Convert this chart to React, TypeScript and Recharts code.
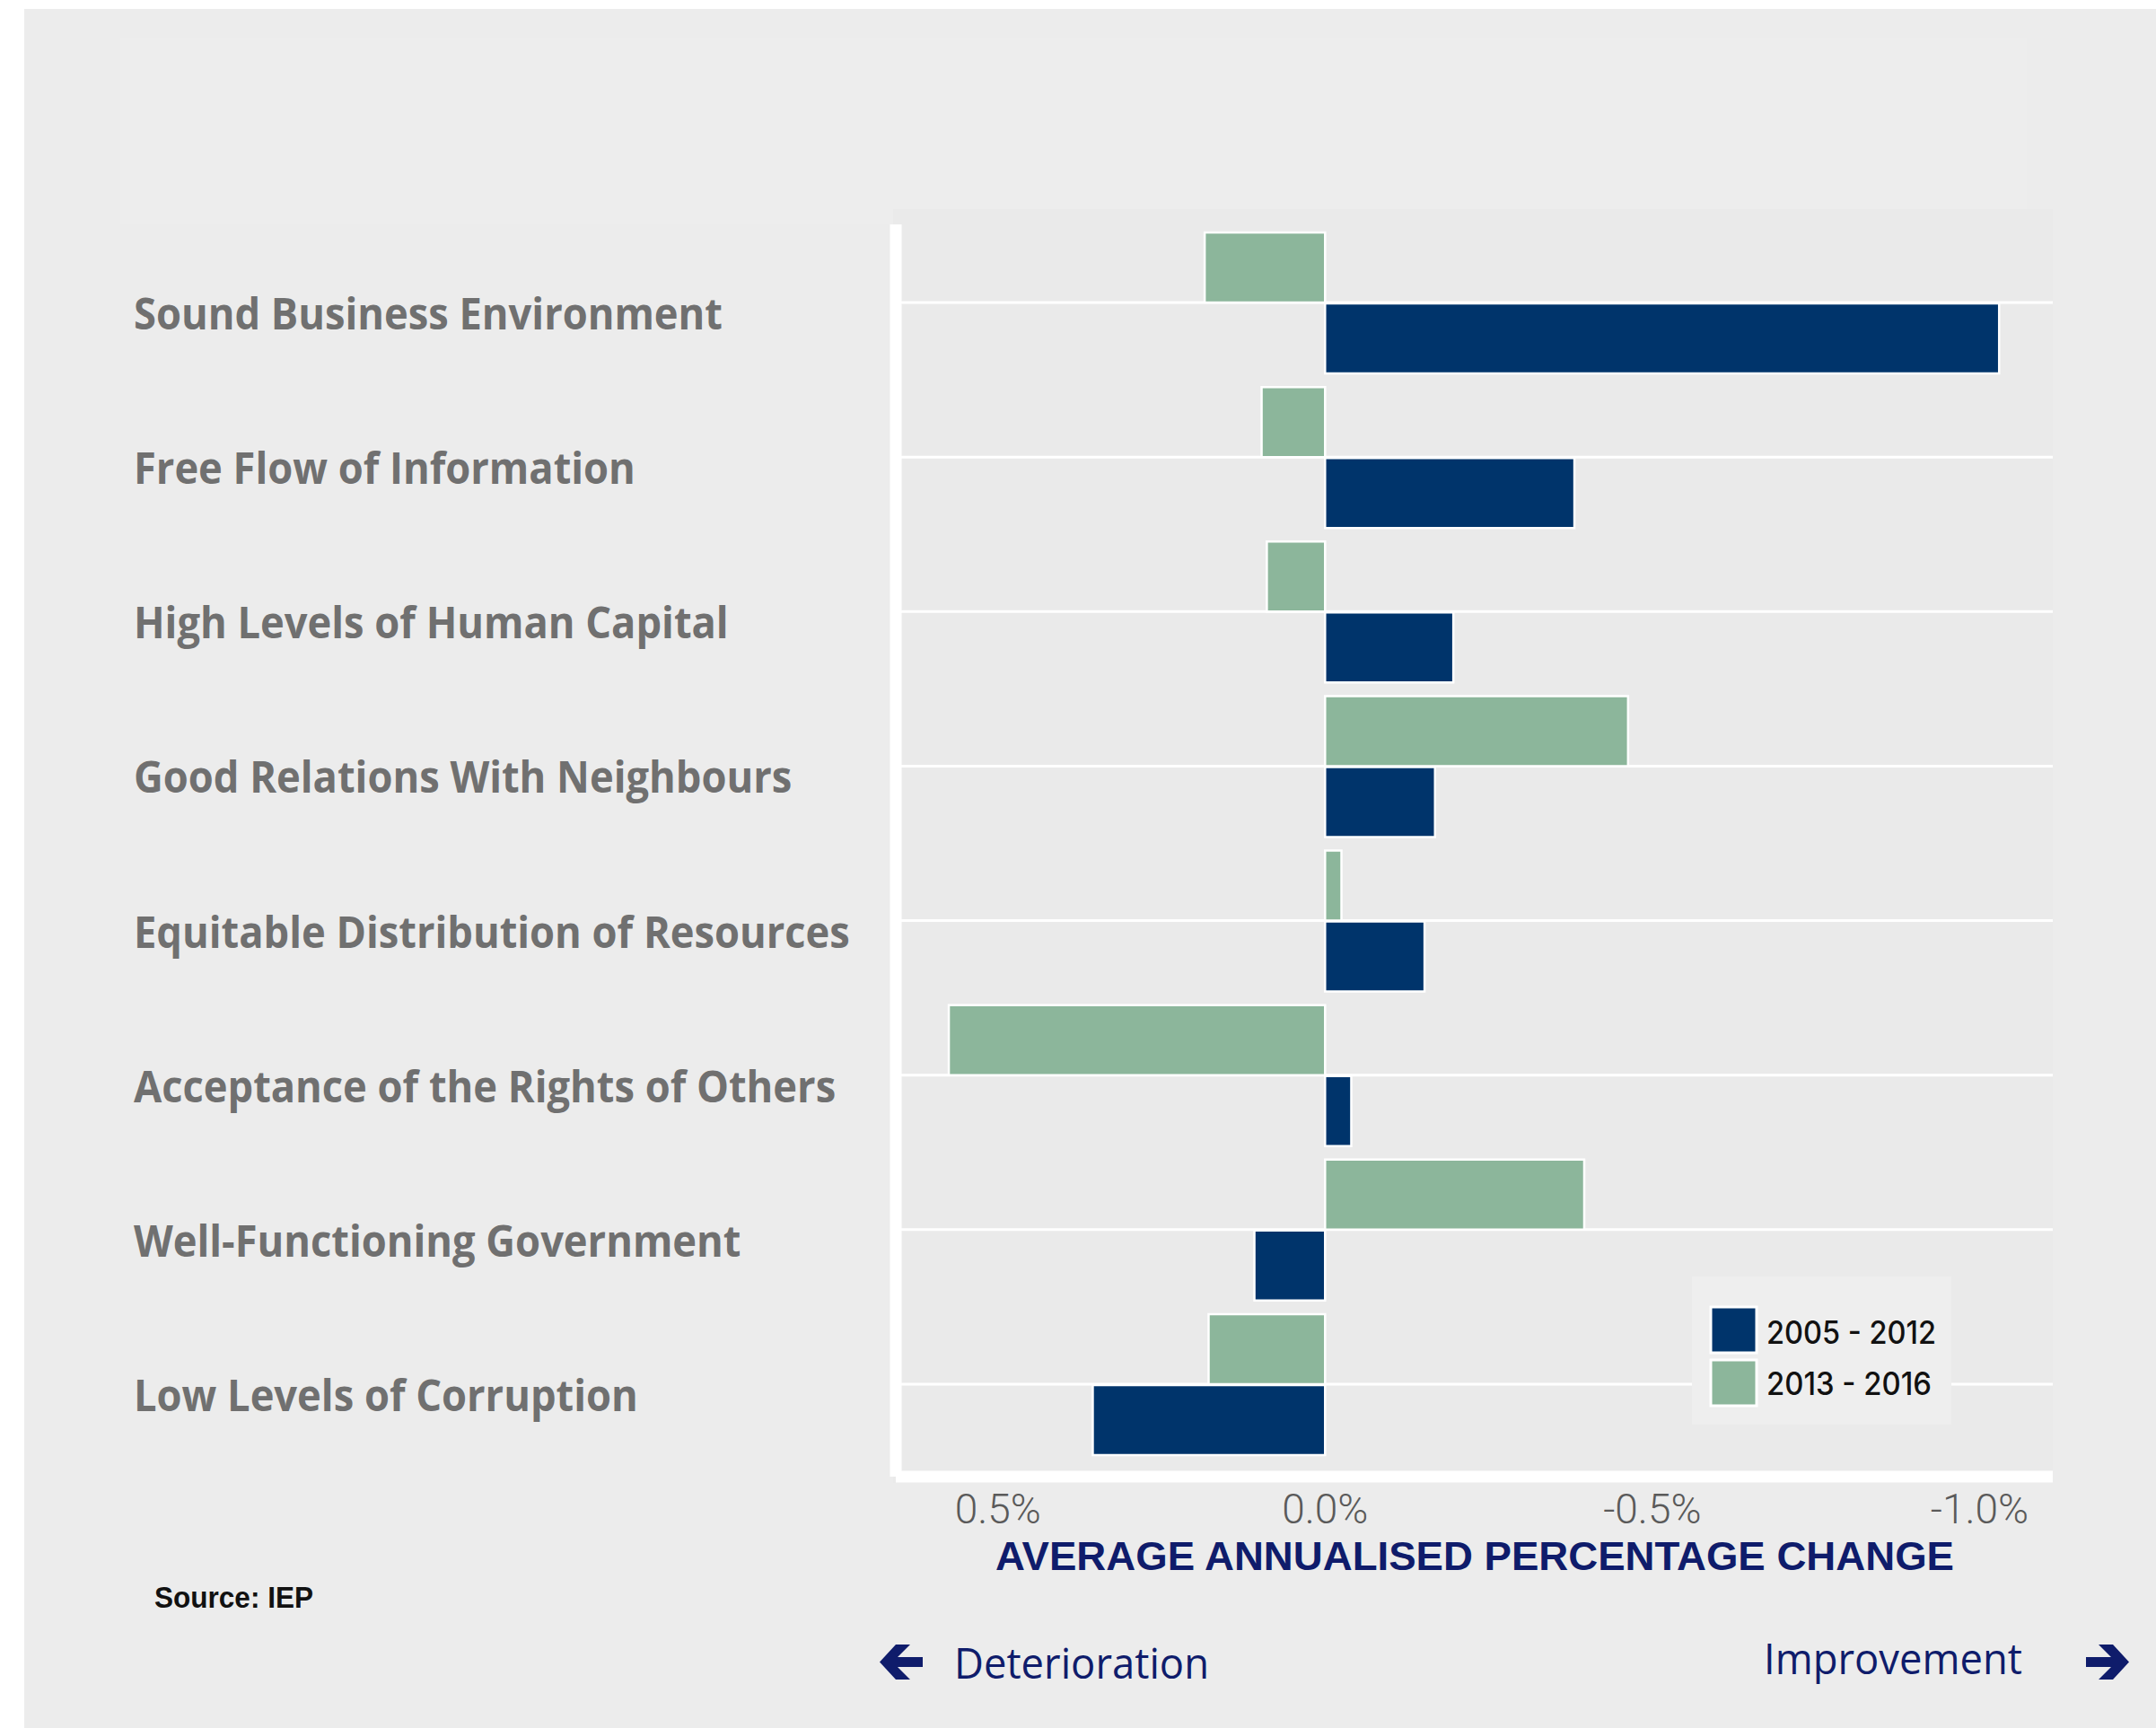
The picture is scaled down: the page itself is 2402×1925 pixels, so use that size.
import { Bar, BarChart, CartesianGrid, XAxis, YAxis } from "recharts";

const categories = [
  "Sound Business Environment",
  "Free Flow of Information",
  "High Levels of Human Capital",
  "Good Relations With Neighbours",
  "Equitable Distribution of Resources",
  "Acceptance of the Rights of Others",
  "Well-Functioning Government",
  "Low Levels of Corruption",
];

// average annualised % change
const change2005to2012 = [-1.03, -0.381, -0.196, -0.168, -0.152, -0.04, 0.108, 0.355];
const change2013to2016 = [0.184, 0.097, 0.089, -0.463, -0.025, 0.575, -0.396, 0.178];

const seriesNames = ["2005 - 2012", "2013 - 2016"];
const xTicks = [0.5, 0, -0.5, -1.0];

const data = categories.map((name, i) => ({
  name,
  early: change2005to2012[i],
  late: change2013to2016[i],
}));

const NAVY = "#00346b";
const SAGE = "#8cb69b";
const INK = "#0f1c6b";

function CategoryTick({ y, payload }: any) {
  return (
    <text
      transform={`translate(149,${y + 30}) scale(0.943,1)`}
      fontFamily="Open Sans"
      fontWeight={700}
      fontSize={48}
      fill="#707070"
    >
      {payload.value}
    </text>
  );
}

function PercentTick({ x, y, payload }: any) {
  return (
    <text x={x} y={y + 52} textAnchor="middle" fontFamily="Roboto" fontWeight={300} fontSize={46} fill="#5a5a5a">
      {Number(payload.value).toFixed(1)}%
    </text>
  );
}

export default function App() {
  return (
    <div style={{ position: "absolute", left: 0, top: 0, width: 2402, height: 1925, background: "#fff" }}>
      <div style={{ position: "absolute", left: 27, top: 10, width: 2375, height: 1915, background: "#ececec" }} />
      <div style={{ position: "absolute", left: 134, top: 42, width: 2124, height: 208, background: "#ededed" }} />
      <div style={{ position: "absolute", left: 995, top: 233, width: 1292, height: 1419, background: "#eaeaea" }} />
      <div style={{ position: "absolute", left: 0, top: 0 }}>
        <BarChart
          width={2402}
          height={1925}
          data={data}
          layout="vertical"
          margin={{ top: 250, right: 115, bottom: 220, left: 149 }}
          barSize={78}
          barGap={1}
        >
          {/* syncWithTicks: lines at category centres only, none on the plot edges */}
          <CartesianGrid vertical={false} stroke="#fff" strokeWidth={3} syncWithTicks />
          <XAxis
            type="number"
            domain={[-1.112, 0.656]}
            reversed
            allowDataOverflow
            ticks={xTicks}
            interval={0}
            tick={<PercentTick />}
            tickLine={false}
            tickSize={0}
            tickMargin={0}
            axisLine={{ stroke: "#fff", strokeWidth: 13 }}
            height={60}
          />
          <YAxis
            type="category"
            dataKey="name"
            width={849}
            interval={0}
            tick={<CategoryTick />}
            tickLine={false}
            axisLine={{ stroke: "#fff", strokeWidth: 13 }}
            padding={{ top: 1, bottom: 17 }}
          />
          <Bar dataKey="late" name={seriesNames[1]} fill={SAGE} stroke="#fff" strokeWidth={2.5} isAnimationActive={false} />
          <Bar dataKey="early" name={seriesNames[0]} fill={NAVY} stroke="#fff" strokeWidth={2.5} isAnimationActive={false} />
        </BarChart>
      </div>
      <svg width={2402} height={1925} style={{ position: "absolute", left: 0, top: 0, pointerEvents: "none" }}>
        {/* legend */}
        <rect x={1885} y={1422} width={289} height={165} fill="#eeeeee" />
        <rect x={1906} y={1456} width={51} height={51} fill={NAVY} stroke="#fff" strokeWidth={3} />
        <rect x={1906} y={1515} width={51} height={51} fill={SAGE} stroke="#fff" strokeWidth={3} />
        <text x={1968} y={1497} fontFamily="Inter" fontWeight={500} fontSize={35} fill="#111" textLength={189} lengthAdjust="spacingAndGlyphs">
          {seriesNames[0]}
        </text>
        <text x={1968} y={1554} fontFamily="Inter" fontWeight={500} fontSize={35} fill="#111" textLength={184} lengthAdjust="spacingAndGlyphs">
          {seriesNames[1]}
        </text>

        <text x={1109} y={1749} fontFamily="Liberation Sans" fontWeight={700} fontSize={44} fill={INK} textLength={1068} lengthAdjust="spacingAndGlyphs">
          AVERAGE ANNUALISED PERCENTAGE CHANGE
        </text>
        <text x={172} y={1791} fontFamily="Liberation Sans" fontWeight={700} fontSize={33} fill="#111" textLength={177} lengthAdjust="spacingAndGlyphs">
          Source: IEP
        </text>

        <polygon
          points="1028,1846 1000,1846 1014,1832 998,1832 980,1851.5 998,1871 1014,1871 1000,1857 1028,1857"
          fill={INK}
        />
        <text x={1063} y={1870} fontFamily="Open Sans" fontSize={48} fill={INK} textLength={284} lengthAdjust="spacingAndGlyphs">
          Deterioration
        </text>
        <text x={1965} y={1865} fontFamily="Open Sans" fontSize={48} fill={INK} textLength={288} lengthAdjust="spacingAndGlyphs">
          Improvement
        </text>
        <polygon
          points="2324,1846 2352,1846 2338,1832 2354,1832 2372,1851.5 2354,1871 2338,1871 2352,1857 2324,1857"
          fill={INK}
        />
      </svg>
    </div>
  );
}
